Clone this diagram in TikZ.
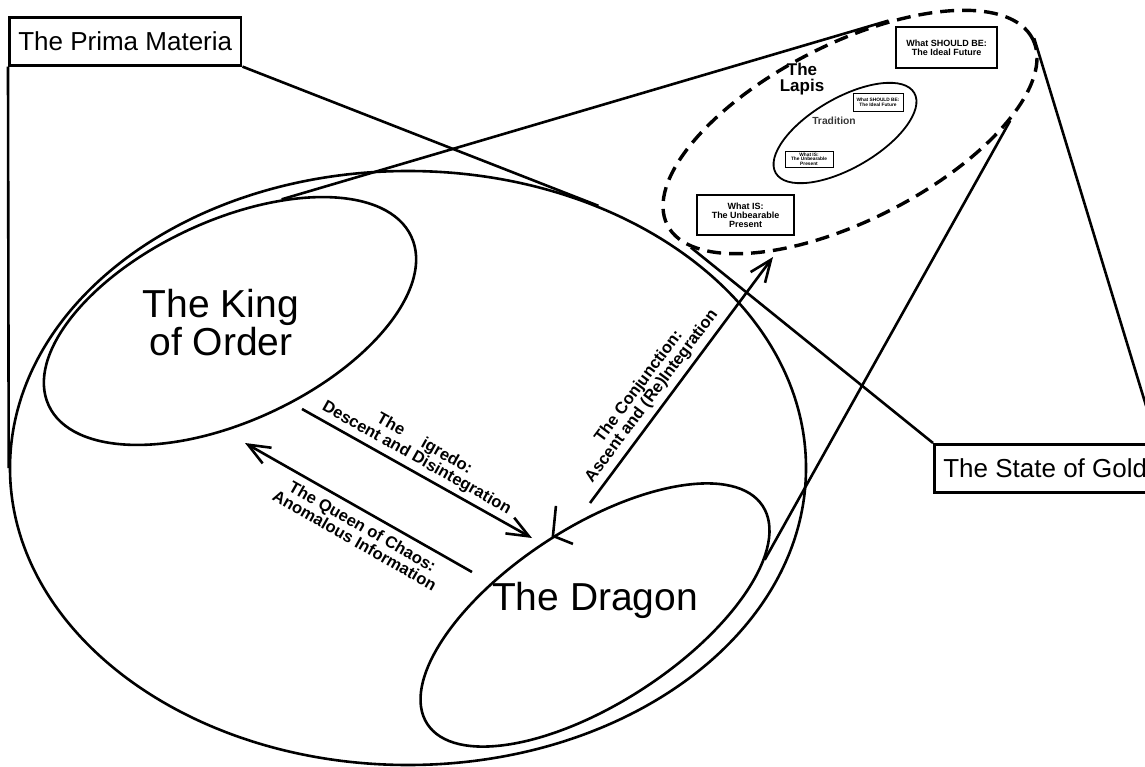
\documentclass[tikz,border=0pt]{standalone}
\usepackage{fontspec}
\setmainfont{Liberation Sans}
\usetikzlibrary{arrows.meta,positioning,shapes.geometric}

\begin{document}
\begin{tikzpicture}[
  x=1pt, y=-1pt,
  ring/.style={ellipse, draw=black, line width=2.6pt, inner sep=0pt},
  lapisring/.style={ellipse, draw=black, line width=3.4pt, dash pattern=on 14pt off 8pt, inner sep=0pt},
  callout/.style={rectangle, draw=black, line width=2.6pt, inner xsep=9pt, minimum height=48pt, anchor=north west, font=\fontsize{26}{28}\selectfont},
  goalbox/.style={rectangle, draw=black, line width=1.4pt, inner sep=0pt, align=center, font=\bfseries\fontsize{9}{9}\selectfont},
  tinybox/.style={rectangle, draw=black, line width=0.7pt, inner sep=0pt, align=center, font=\bfseries\fontsize{4.8}{4.6}\selectfont},
  bigname/.style={align=center, font=\fontsize{39}{38}\selectfont},
  steplabel/.style={align=center, font=\bfseries\fontsize{16.5}{16}\selectfont, inner sep=3pt},
  link/.style={line width=2.6pt},
  arrow/.style={-{Straight Barb[length=22pt, width=18pt]}, line width=2.6pt},
  backarrow/.style={{Straight Barb[length=22pt, width=18pt]}-, line width=2.6pt}
]
\useasboundingbox (0,0) rectangle (1145,767);

\node[ring, minimum width=796pt, minimum height=594pt] (outer) at (408,468) {};
\node[ring, rotate=25, minimum width=400pt, minimum height=200pt] (king) at (230,321) {};
\node[ring, rotate=33, minimum width=400pt, minimum height=176pt] (dragon) at (595,615) {};
\node[lapisring, rotate=27, minimum width=410pt, minimum height=176pt] (lapis) at (850,132) {};
\node[ring, line width=1.8pt, rotate=30, minimum width=160pt, minimum height=70pt] (tradition) at (845,133) {};

\node[callout] (prima) at (8,16) {The Prima Materia};
\node[callout] (gold) at (933,443) {The State of Gold};

\node[bigname] (kingname) at (221,323) {The King\\of Order};
\node[bigname] (dragonname) at (595,600) {The Dragon};
\node[align=center, font=\bfseries\fontsize{17}{16}\selectfont] (lapisname) at (802,79) {The\\Lapis};
\node[font=\bfseries\fontsize{10.3}{12}\selectfont, text=black!78] (tradname) at (834,121) {Tradition};

\node[goalbox, minimum width=101pt, minimum height=41pt] (shouldbig) at (946.5,47.5) {What SHOULD BE:\\The Ideal Future};
\node[goalbox, minimum width=97pt, minimum height=40pt] (isbig) at (745.5,215) {What IS:\\The Unbearable\\Present};
\node[tinybox, minimum width=50pt, minimum height=18pt] (shouldsmall) at (878,102) {What SHOULD BE:\\The Ideal Future};
\node[tinybox, minimum width=48pt, minimum height=16pt] (issmall) at (809,159) {What IS:\\The Unbearable\\Present};

\coordinate (nigtail) at (302,409);
\coordinate (nigtip) at (532,538);
\coordinate (queentip) at (245,443);
\coordinate (queentail) at (472,572);
\coordinate (conjtail) at (590,503);
\coordinate (conjtip) at (773,257);
\coordinate (dragontip) at (dragon.85);

\draw[link] (prima.south west) -- (outer.west);
\draw[link] (prima.south east) -- (outer.54);
\draw[link] (king.42) -- (lapis.44);
\draw[link] (dragon.-15) -- (lapis.-23);
\draw[link] (gold.north west) -- (lapis.189);
\draw[link] (gold.north east) -- (lapis.east);

\draw[arrow] (nigtail) -- node[steplabel, above=1pt, sloped, pos=0.47] {The\hspace{1.3em}igredo:\\Descent and Disintegration} (nigtip);
\draw[backarrow] (queentip) -- node[steplabel, below=4pt, sloped, pos=0.55] {The Queen of Chaos:\\Anomalous Information} (queentail);
\draw[arrow] (conjtail) -- node[steplabel, above=2pt, sloped, pos=0.4] {The Conjunction:\\Ascent and (Re)Integration} (conjtip);
\draw[link] (dragontip) ++(3,-30) -- (dragontip) -- ++(20,8);
\end{tikzpicture}
\end{document}
